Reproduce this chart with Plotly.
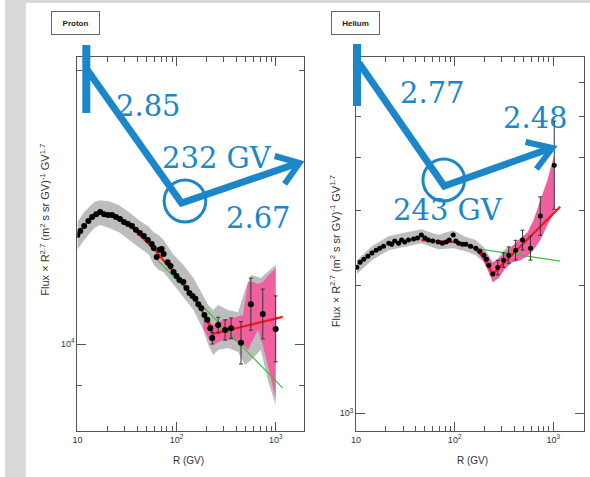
import plotly.graph_objects as go

W, H = 590, 477
BLUE = "#1b87c9"
GREY = "#bdbdbd"
PINK = "#f0609e"
RED = "#f01818"
GREEN = "#3cc03c"

# ---------------- Proton data ----------------
p_R = [10.0, 10.7, 11.7, 12.9, 14.1, 15.5, 17.0, 18.6, 20.4, 22.4, 24.5, 26.9, 29.5, 32.4, 35.5, 38.9,
       42.7, 46.8, 51.3, 56.2, 58.9, 63.1, 67.6, 70.8, 74.1, 81.3, 87.1, 93.3, 100, 107, 117, 126, 135,
       145, 155, 166, 178, 191, 204, 219, 229, 263, 309, 355, 447, 562, 741, 1000]
p_F = [13180, 13310, 13480, 13650, 13790, 13890, 13970, 13890, 13860, 13860, 13790, 13720, 13620, 13550,
       13480, 13350, 13240, 13140, 13010, 12880, 12750, 12460, 12690, 12720, 12560, 12300, 12180, 12000,
       11880, 11760, 11700, 11520, 11380, 11290, 11210, 11060, 10950, 10760, 10630, 10410, 10150, 10490,
       10360, 10410, 10030, 11060, 10790, 10390]
p_errfac = [1.0] * 40 + [1.015, 1.02, 1.026, 1.026, 1.055, 1.068, 1.065, 1.087]

pg_R = [10.0, 11.7, 14.8, 17.0, 20.9, 26.3, 33.1, 41.7, 52.5, 58.9, 66.1, 74.1, 93.3, 117, 148, 186,
        209, 234, 263, 331, 417, 490, 562, 708, 832, 1000]
pg_hi = [13620, 13970, 14320, 14390, 14350, 14210, 13970, 13690, 13450, 13270, 13180, 13010, 12530,
         12220, 11820, 11320, 11040, 10900, 11040, 10900, 10840, 11460, 11910, 11820, 12000, 12220]
pg_lo = [12690, 13010, 13410, 13510, 13410, 13270, 13010, 12780, 12530, 12220, 12060, 12000, 11610,
         11260, 10900, 10360, 9975, 9726, 9850, 9900, 9800, 9482, 9600, 9850, 9130, 8570]

pp_R = [186, 209, 234, 295, 372, 468, 525, 589, 661, 741, 851, 1000]
pp_hi = [10680, 10630, 10490, 10630, 10680, 10760, 11700, 11700, 11640, 11700, 11910, 12120]
pp_lo = [10410, 10150, 9975, 10100, 10100, 9975, 9850, 10100, 10360, 9975, 9360, 8720]

p_red_R = [35, 60, 100, 150, 200, 232, 1175]
p_red_F = [13450, 12700, 11880, 11220, 10680, 10260, 10710]
p_green_R = [60, 1175]
p_green_F = [12460, 8950]

# ---------------- Helium data ----------------
h_R = [10.2, 11.0, 12.0, 13.2, 14.5, 16.0, 17.4, 19.0, 21.5, 23.0, 24.7, 27.0, 29.0, 31.1, 34.0, 38.3,
       42.0, 46.0, 50.0, 54.2, 60.0, 68.2, 75.0, 82.0, 88.0, 96.6, 103, 110, 120, 130, 145, 164, 180,
       198, 210, 222, 244, 274, 314, 353, 415, 488, 587, 739, 1023]
h_F = [2204, 2266, 2303, 2341, 2380, 2418, 2445, 2471, 2512, 2498, 2540, 2512, 2554, 2526, 2554, 2568,
       2582, 2624, 2582, 2554, 2540, 2526, 2512, 2526, 2554, 2624, 2540, 2512, 2498, 2498, 2471, 2445,
       2405, 2354, 2303, 2229, 2124, 2200, 2290, 2354, 2418, 2554, 2445, 2908, 3832]
h_errfac = [1.0] * 37 + [1.04, 1.04, 1.045, 1.055, 1.055, 1.067, 1.11, 1.27]

hg_R = [10.2, 14.5, 21.5, 29.0, 46.0, 68.2, 96.6, 130, 164, 198, 222, 244, 274, 314, 370]
hg_hi = [2291, 2471, 2610, 2652, 2710, 2624, 2695, 2596, 2554, 2458, 2354, 2218, 2316, 2418, 2485]
hg_lo = [2124, 2291, 2418, 2458, 2512, 2431, 2445, 2405, 2354, 2266, 2147, 2033, 2124, 2218, 2291]

hp_R = [184, 212, 244, 280, 329, 387, 466, 548, 630, 739, 871, 1023]
hp_hi = [2445, 2366, 2266, 2316, 2392, 2485, 2582, 2666, 2845, 3171, 3534, 4047]
hp_lo = [2341, 2194, 2033, 2079, 2194, 2266, 2291, 2341, 2418, 2554, 2769, 2971]

h_red_R = [46, 100, 150, 200, 243, 1175]
h_red_F = [2554, 2526, 2471, 2316, 2124, 3060]
h_green_R = [157, 1175]
h_green_F = [2445, 2279]

x_tickvals = [10, 100, 1000]
x_ticktext = ["10", "10<sup>2</sup>", "10<sup>3</sup>"]
x_minor = [20, 30, 40, 50, 60, 70, 80, 90, 200, 300, 400, 500, 600, 700, 800, 900]
ytitle = "Flux × R<sup>2.7</sup> (m<sup>2</sup> s sr GV)<sup>-1</sup> GV<sup>1.7</sup>"


def X(p):
    return p / W


def Y(p):
    return 1 - p / H


fig = go.Figure()


def band(R, hi, lo, color, xa, ya):
    fig.add_trace(go.Scatter(x=R + R[::-1], y=hi + lo[::-1], fill="toself", fillcolor=color,
                             line=dict(width=0), mode="lines", xaxis=xa, yaxis=ya,
                             hoverinfo="skip", showlegend=False))


def line(R, F, color, width, xa, ya):
    fig.add_trace(go.Scatter(x=R, y=F, mode="lines", line=dict(color=color, width=width),
                             xaxis=xa, yaxis=ya, showlegend=False))


def points(R, F, fac, size, xa, ya):
    plus = [f * (k - 1) for f, k in zip(F, fac)]
    minus = [f * (1 - 1 / k) for f, k in zip(F, fac)]
    fig.add_trace(go.Scatter(x=R, y=F, mode="markers", marker=dict(color="black", size=size),
                             error_y=dict(type="data", array=plus, arrayminus=minus, color="#333",
                                          thickness=1, width=2),
                             xaxis=xa, yaxis=ya, showlegend=False))


# Proton panel
band(pg_R, pg_hi, pg_lo, GREY, "x", "y")
band(pp_R, pp_hi, pp_lo, PINK, "x", "y")
line(p_green_R, p_green_F, GREEN, 1.3, "x", "y")
line(p_red_R, p_red_F, RED, 2.2, "x", "y")
points(p_R, p_F, p_errfac, 6, "x", "y")

# Helium panel
band(hg_R, hg_hi, hg_lo, GREY, "x2", "y2")
band(hp_R, hp_hi, hp_lo, PINK, "x2", "y2")
line(h_green_R, h_green_F, GREEN, 1.3, "x2", "y2")
line(h_red_R, h_red_F, RED, 2.2, "x2", "y2")
points(h_R, h_F, h_errfac, 5, "x2", "y2")

axis_common = dict(type="log", showline=True, mirror="allticks", linecolor="#555", linewidth=1,
                   ticks="inside", tickcolor="#555", showgrid=False, zeroline=False,
                   tickfont=dict(family="Liberation Sans", size=9, color="#333"))


def xaxis(dom, rng, anchor):
    d = dict(axis_common)
    d.update(domain=dom, range=rng, anchor=anchor, tickmode="array", tickvals=x_tickvals,
             ticktext=x_ticktext, ticklen=9,
             minor=dict(tickmode="array", tickvals=x_minor, ticks="inside", ticklen=5,
                        tickcolor="#555", showgrid=False))
    return d


def yaxis(dom, rng, anchor, major, label, minor):
    d = dict(axis_common)
    d.update(domain=dom, range=rng, anchor=anchor, tickmode="array", tickvals=[major],
             ticktext=[label], ticklen=9,
             minor=dict(tickmode="array", tickvals=minor, ticks="inside", ticklen=5,
                        tickcolor="#555", showgrid=False))
    return d


ydom = [Y(431), Y(57)]
fig.update_layout(
    width=W, height=H, margin=dict(l=0, r=0, t=0, b=0),
    paper_bgcolor="white", plot_bgcolor="white", showlegend=False,
    xaxis=xaxis([X(73), X(302)], [1, 3.29], "y"),
    yaxis=yaxis(ydom, [3.9044, 4.3154], "x", 10000, "10<sup>4</sup>", [9000, 20000]),
    xaxis2=xaxis([X(354), X(584)], [1, 3.312], "y2"),
    yaxis2=yaxis(ydom, [2.958, 3.838], "x2", 1000, "10<sup>3</sup>",
                 [2000, 3000, 4000, 5000, 6000]),
)

shapes = []
# background strips
shapes.append(dict(type="rect", xref="paper", yref="paper", x0=0, x1=X(21), y0=0, y1=1,
                   fillcolor="#d9d9d9", line=dict(width=0), layer="below"))
shapes.append(dict(type="rect", xref="paper", yref="paper", x0=0, x1=1, y0=Y(3), y1=1,
                   fillcolor="#d9d9d9", line=dict(width=0), layer="below"))


def path(pts):
    return "M " + " L ".join(f"{X(a):.5f},{Y(b):.5f}" for a, b in pts)


def blue_path(pts, w):
    shapes.append(dict(type="path", xref="paper", yref="paper", path=path(pts),
                       line=dict(color=BLUE, width=w)))


def blue_circle(cx, cy, r):
    shapes.append(dict(type="circle", xref="paper", yref="paper", x0=X(cx - r), x1=X(cx + r),
                       y0=Y(cy + r), y1=Y(cy - r), line=dict(color=BLUE, width=3)))


# Proton blue sketch
blue_path([(82, 45), (82, 113)], 8)
blue_path([(83, 70), (178, 203), (296, 163)], 7)
blue_path([(272, 156), (297, 163), (282, 184)], 6)
blue_circle(181.5, 201, 21)
# Helium blue sketch
blue_path([(355, 44), (355, 106)], 8)
blue_path([(357, 63), (443, 186), (551, 148)], 7)
blue_path([(525, 142), (552, 148), (536, 169)], 6)
blue_circle(442.5, 180, 21)

ann = []


def blue_text(t, cx, cy):
    ann.append(dict(text=t, x=X(cx), y=Y(cy), xref="paper", yref="paper", showarrow=False,
                    xanchor="center", yanchor="middle",
                    font=dict(family="DejaVu Serif", size=29, color=BLUE)))


blue_text("2.85", 145, 106)
blue_text("232 GV", 214, 158)
blue_text("2.67", 256, 218)
blue_text("2.77", 431, 93)
blue_text("2.48", 535, 118)
blue_text("243 GV", 447, 210)

for t, cx in [("Proton", 71.5), ("Helium", 353)]:
    ann.append(dict(text=f"<b>{t}</b>", x=X(cx), y=Y(23), xref="paper", yref="paper",
                    showarrow=False, xanchor="center", yanchor="middle", width=45, height=20,
                    bordercolor="#666", borderwidth=1, borderpad=1, bgcolor="white",
                    font=dict(family="Liberation Sans", size=8, color="#222")))

for cx, cy in [(40, 220), (333, 251)]:
    ann.append(dict(text=ytitle, x=X(cx), y=Y(cy), xref="paper", yref="paper", showarrow=False,
                    textangle=-90, xanchor="center", yanchor="middle",
                    font=dict(family="Liberation Sans", size=11, color="#333")))

for cx in [185, 471]:
    ann.append(dict(text="R (GV)", x=X(cx), y=Y(460), xref="paper", yref="paper",
                    showarrow=False, xanchor="center", yanchor="middle",
                    font=dict(family="Liberation Sans", size=10, color="#333")))

fig.update_layout(shapes=shapes, annotations=ann)
fig.write_html("out.html")
